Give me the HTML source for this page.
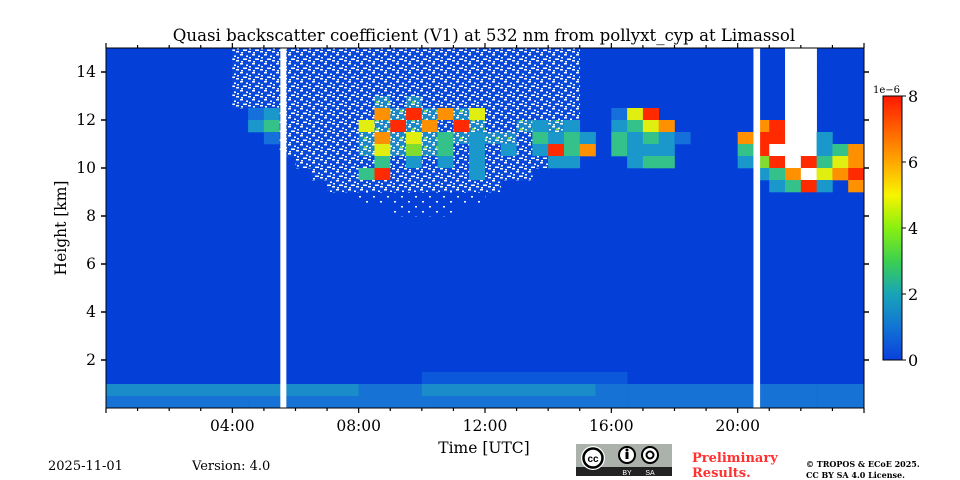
<!DOCTYPE html>
<html><head><meta charset="utf-8"><style>
html,body{margin:0;padding:0;background:#fff;width:960px;height:480px;overflow:hidden}
svg text{font-family:"DejaVu Serif","Liberation Serif",serif;fill:#000}
</style></head><body>
<svg id="chart" width="960" height="480" viewBox="0 0 960 480" xmlns="http://www.w3.org/2000/svg">
<defs>
<pattern id="pn" patternUnits="userSpaceOnUse" width="12" height="9"><rect width="12" height="9" fill="#0848da"/><rect x="0" y="0" width="3" height="1.5" fill="#fff"/><rect x="6" y="1.5" width="2" height="1.5" fill="#fff"/><rect x="3" y="4.5" width="4" height="1.5" fill="#fff"/><rect x="9" y="3" width="2" height="1.5" fill="#fff"/><rect x="1" y="7" width="2" height="1.5" fill="#fff"/><rect x="8" y="6" width="3" height="1.5" fill="#fff"/></pattern>
<pattern id="pm" patternUnits="userSpaceOnUse" width="12" height="9"><rect width="12" height="9" fill="#1a88c8"/><rect x="4" y="2" width="3" height="2" fill="#7ad850"/><rect x="0" y="0" width="3" height="1.5" fill="#fff"/><rect x="6" y="1.5" width="2" height="1.5" fill="#fff"/><rect x="3" y="4.5" width="4" height="1.5" fill="#fff"/><rect x="9" y="3" width="2" height="1.5" fill="#fff"/><rect x="1" y="7" width="2" height="1.5" fill="#fff"/><rect x="8" y="6" width="3" height="1.5" fill="#fff"/></pattern>
<pattern id="ps" patternUnits="userSpaceOnUse" width="14" height="10"><rect width="14" height="10" fill="#0440d8"/><rect x="2" y="1" width="2" height="1.5" fill="#fff"/><rect x="9" y="6" width="2" height="1.5" fill="#fff"/></pattern>
<linearGradient id="cbg" x1="0" y1="1" x2="0" y2="0">
<stop offset="0" stop-color="#0a40dc"/><stop offset="0.125" stop-color="#1274d4"/><stop offset="0.25" stop-color="#18a4b8"/><stop offset="0.375" stop-color="#3cd050"/><stop offset="0.5" stop-color="#88f010"/><stop offset="0.625" stop-color="#f8f400"/><stop offset="0.75" stop-color="#ffa800"/><stop offset="0.875" stop-color="#ff6000"/><stop offset="1" stop-color="#ff1800"/>
</linearGradient>
</defs>
<text x="484" y="41" font-size="16.6" text-anchor="middle">Quasi backscatter coefficient (V1) at 532 nm from pollyxt_cyp at Limassol</text>
<g id="plot"></g>
<g id="axes"></g>
<text transform="translate(66,228) rotate(-90)" font-size="15.5" text-anchor="middle">Height [km]</text>
<text x="484" y="453" font-size="15.5" text-anchor="middle">Time [UTC]</text>
<rect x="883" y="96" width="19" height="264" fill="url(#cbg)" stroke="#000" stroke-width="1"/>
<text x="873" y="93" font-size="10">1e−6</text>
<g id="cbar"></g>
<text x="48" y="470" font-size="13">2025-11-01</text>
<text x="192" y="470" font-size="13">Version: 4.0</text>
<g>
<rect x="576" y="444" width="96" height="32" fill="#aab2ab"/>
<rect x="576" y="467" width="96" height="9" fill="#222"/>
<circle cx="593" cy="458" r="12" fill="#fff"/><circle cx="593" cy="458" r="9.5" fill="#fff" stroke="#000" stroke-width="2.5"/>
<text x="593" y="462" font-size="10" text-anchor="middle" font-weight="bold" style="font-family:'Liberation Sans',sans-serif">cc</text>
<circle cx="627" cy="455" r="8" fill="#fff" stroke="#000" stroke-width="2"/><rect x="625.5" y="452" width="3" height="7" fill="#000"/><circle cx="627" cy="450" r="1.5" fill="#000"/>
<circle cx="650" cy="455" r="8" fill="#fff" stroke="#000" stroke-width="2"/><circle cx="650" cy="455" r="3.5" fill="none" stroke="#000" stroke-width="2"/>
<text x="627" y="475" font-size="7" text-anchor="middle" style="fill:#fff;font-family:'Liberation Sans',sans-serif">BY</text>
<text x="650" y="475" font-size="7" text-anchor="middle" style="fill:#fff;font-family:'Liberation Sans',sans-serif">SA</text>
</g>
<text x="692" y="462" font-size="13" font-weight="bold" style="fill:#ff3030">Preliminary</text>
<text x="692" y="477" font-size="13" font-weight="bold" style="fill:#ff3030">Results.</text>
<text x="806" y="467" font-size="8" font-weight="bold">© TROPOS &amp; ECoE 2025.</text>
<text x="806" y="478" font-size="8" font-weight="bold">CC BY SA 4.0 License.</text>
</svg>
<script>
// grid: 48 columns (0.5 h each), 30 rows (0.5 km each, top row = 14.5-15 km)
const gridRows = [
"........ nnnnnnnn nnnnnnnn nnnnnn.. ........ ...ww...",
"........ nnnnnnnn nnnnnnnn nnnnnn.. ........ ...ww...",
"........ nnnnnnnn nnnnnnnn nnnnnn.. ........ ...ww...",
"........ nnnnnnnn nnnnnnnn nnnnnn.. ........ ...ww...",
"........ nnnnnnnn nmnmnnnn nnnnnn.. ........ ...ww...",
"........ .12nnnnn n6m7m6m5 nnnnnn.. 157..... ...ww...",
"........ .23nnnnn 5m7m6n7m nnm2m2.. 2356.... .67ww...",
"........ ..1nnnnn m6m5m3m2 mmn3232. 32321... 677ww2..",
"........ ...nnnnn m5m4m3n2 n2n2736. 3222.... 37www236",
"........ ....nnnn n3n2n2n2 nnnn22.. .233.... 247w7356",
"........ .....nnn 37nnnnn2 nnn..... ........ .236w567",
"........ ......nn nnnnnnnn n....... ........ ..2372.6",
"........ ........ ssssssss ........ ........ ........",
"........ ........ ..ssss.. ........ ........ ........",
"........ ........ ........ ........ ........ ........",
"........ ........ ........ ........ ........ ........",
"........ ........ ........ ........ ........ ........",
"........ ........ ........ ........ ........ ........",
"........ ........ ........ ........ ........ ........",
"........ ........ ........ ........ ........ ........",
"........ ........ ........ ........ ........ ........",
"........ ........ ........ ........ ........ ........",
"........ ........ ........ ........ ........ ........",
"........ ........ ........ ........ ........ ........",
"........ ........ ........ ........ ........ ........",
"........ ........ ........ ........ ........ ........",
"........ ........ ........ ........ ........ ........",
"........ ........ ....llll llllllll l....... ........",
"tttttttt tttttttt bbbbtttt tttttttb bbbbbbbb bbbbbbbb",
"bbbbbbbb bbbbbbbb bbbbbbbb bbbbbbbb bbbbbbbb bbbbbbbb"
];
const gapStarts = [5.52, 20.50];
const gapEnds = [5.71, 20.71];
const xTickHours = [4, 8, 12, 16, 20];
const xTickLabels = ["04:00", "08:00", "12:00", "16:00", "20:00"];
const yTickValues = [2, 4, 6, 8, 10, 12, 14];
const cbarTicks = [0, 2, 4, 6, 8];

const NS = "http://www.w3.org/2000/svg";
const X0 = 106, X1 = 864, Y0 = 408, Y1 = 48;
const xScale = h => X0 + (X1 - X0) * h / 24;
const yScale = km => Y0 - (Y0 - Y1) * km / 15;
const cbScale = v => 360 - 264 * v / 8;
const fills = {".":"#0440d8","l":"#0c58da","b":"#1672d4","t":"#1a8cca","1":"#1670dc","2":"#1a98cc","3":"#34c28a","4":"#80dc30","5":"#e0ee10","6":"#ff9000","7":"#ff2a00","w":"#ffffff","n":"url(#pn)","m":"url(#pm)","s":"url(#ps)"};
function mk(tag, attrs, parent) {
  const e = document.createElementNS(NS, tag);
  for (const k in attrs) e.setAttribute(k, attrs[k]);
  parent.appendChild(e);
  return e;
}
const plot = document.getElementById("plot");
const bg = mk("rect", {x: X0, y: Y1, width: X1 - X0, height: Y0 - Y1, fill: "#0440d8"}, plot);


gridRows.forEach((rowStr, r) => {
  const row = rowStr.replace(/ /g, "");
  const kmTop = 15 - r * 0.5, kmBot = kmTop - 0.5;
  for (let c = 0; c < row.length; c++) {
    const ch = row[c];
    if (ch === ".") continue;
    const x = xScale(c * 0.5), x2 = xScale(c * 0.5 + 0.5);
    const cell = mk("rect", {x: x, y: yScale(kmTop), width: x2 - x + 0.3, height: yScale(kmBot) - yScale(kmTop) + 0.3, fill: fills[ch]}, plot);
    
    
  }
});
gapStarts.forEach((s, i) => {
  const g = mk("rect", {x: xScale(s), y: Y1, width: xScale(gapEnds[i]) - xScale(s), height: Y0 - Y1, fill: "#fff"}, plot);
  
  
});
const axes = document.getElementById("axes");
const frame = mk("rect", {x: X0, y: Y1, width: X1 - X0, height: Y0 - Y1, fill: "none", stroke: "#000", "stroke-width": 1}, axes);


for (let h = 0; h <= 24; h++) {
  const x = xScale(h), major = h % 4 === 0;
  const len = major ? 5 : 3;
  const t1 = mk("line", {x1: x, x2: x, y1: Y0, y2: Y0 + len, stroke: "#000", "stroke-width": 1.2}, axes);
  
  
  const t2 = mk("line", {x1: x, x2: x, y1: Y1, y2: Y1 - len, stroke: "#000", "stroke-width": 1.2}, axes);
  
  
}
xTickHours.forEach((h, i) => {
  const t = mk("text", {x: xScale(h), y: Y0 + 23, "font-size": 15.5, "text-anchor": "middle"}, axes);
  t.textContent = xTickLabels[i];
  
  
});
yTickValues.forEach(v => {
  const y = yScale(v);
  const a = mk("line", {x1: X0 - 5, x2: X0, y1: y, y2: y, stroke: "#000", "stroke-width": 1.5}, axes);
  
  
  const b = mk("line", {x1: X1, x2: X1 + 5, y1: y, y2: y, stroke: "#000", "stroke-width": 1.5}, axes);
  
  
  const t = mk("text", {x: X0 - 10, y: y + 5, "font-size": 15.5, "text-anchor": "end"}, axes);
  t.textContent = v;
  
  
});
const cb = document.getElementById("cbar");
cbarTicks.forEach(v => {
  const y = cbScale(v);
  const l = mk("line", {x1: 902, x2: 906, y1: y, y2: y, stroke: "#000", "stroke-width": 1}, cb);
  
  
  const t = mk("text", {x: 908, y: y + 6, "font-size": 16}, cb);
  t.textContent = v;
  
  
});
</script>
</body></html>
